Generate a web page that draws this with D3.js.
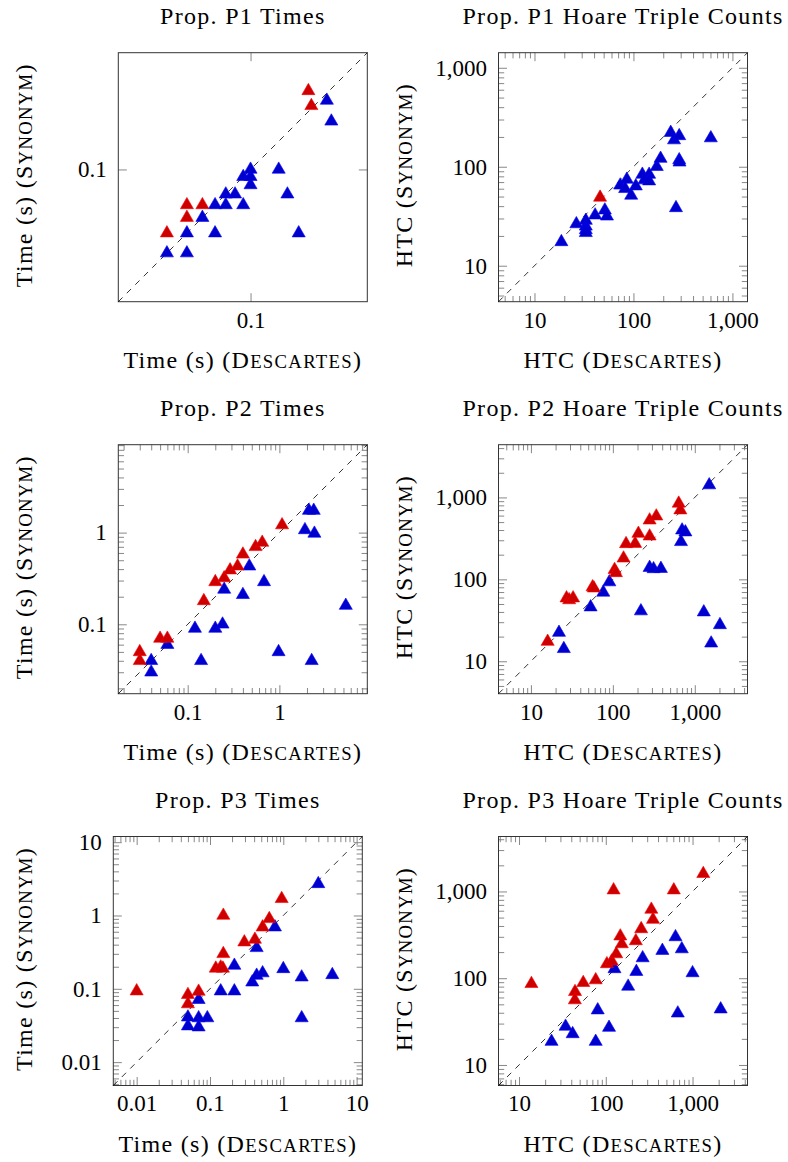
<!DOCTYPE html>
<html>
<head>
<meta charset="utf-8">
<script src="https://cdn.jsdelivr.net/npm/d3@7"></script>
<style>
  body { margin: 0; background: #fff; }
  svg text { font-family: "Liberation Serif", serif; fill: #000; }
  .lbl { font-size: 24px; letter-spacing: 1.3px; }
  .sc { font-size: 18.7px; text-transform: uppercase; }
</style>
</head>
<body>
<div id="container"></div>
<script>
// Titles
const titles = [
  'Prop. P1 Times', 'Prop. P1 Hoare Triple Counts',
  'Prop. P2 Times', 'Prop. P2 Hoare Triple Counts',
  'Prop. P3 Times', 'Prop. P3 Hoare Triple Counts'
];

// Axis ranges (same for x and y, so the diagonal runs corner to corner)
const p1TimeDomain = [0.0149, 0.537];
const p1HtcDomain = [4.33, 1420];
const p2TimeDomain = [0.0175, 9.1];
const p2HtcDomain = [4.02, 4400];
const p3TimeDomain = [0.0048, 11.95];
const p3HtcDomain = [5.8, 4300];

// Labelled ticks
const p1TimeTicks = [0.1];
const p1HtcTicks = [10, 100, 1000];
const p2TimeTicks = [0.1, 1];
const p2HtcTicks = [10, 100, 1000];
const p3TimeTicks = [0.01, 0.1, 1, 10];
const p3HtcTicks = [10, 100, 1000];

// Points: [Descartes, Synonym]
const p1TimeRed = [[0.03, 0.04], [0.04, 0.05], [0.04, 0.06], [0.05, 0.06], [0.23, 0.31], [0.24, 0.25]];
const p1TimeBlue = [[0.03, 0.03], [0.04, 0.03], [0.04, 0.04], [0.06, 0.04], [0.20, 0.04], [0.05, 0.05],
  [0.06, 0.06], [0.07, 0.06], [0.09, 0.06], [0.07, 0.07], [0.08, 0.07], [0.17, 0.07], [0.10, 0.08],
  [0.09, 0.09], [0.10, 0.09], [0.10, 0.10], [0.15, 0.10], [0.30, 0.27], [0.32, 0.20]];

const p1HtcRed = [[46, 49]];
const p1HtcBlue = [[18.7, 17.4], [26.5, 26.4], [33, 28.6], [33, 25], [33, 23], [33, 21.5], [41, 32.4],
  [51.4, 36.4], [54, 31.6], [73.5, 65], [85.7, 74.4], [82.4, 59.9], [94.8, 51.3], [105.6, 63.7],
  [123, 83.5], [144, 83.5], [129, 73.3], [144, 71.6], [172, 100], [188, 121], [238, 221], [257, 186],
  [290, 205], [290, 117], [292, 111], [269, 38.4], [605, 195]];

const p2TimeRed = [[0.03, 0.05], [0.03, 0.04], [0.05, 0.07], [0.06, 0.07], [0.15, 0.18], [0.2, 0.29],
  [0.25, 0.32], [0.29, 0.39], [0.35, 0.43], [0.4, 0.58], [0.55, 0.7], [0.65, 0.78], [1.07, 1.21]];
const p2TimeBlue = [[0.04, 0.04], [0.04, 0.03], [0.06, 0.06], [0.12, 0.09], [0.2, 0.09], [0.24, 0.1],
  [0.14, 0.04], [0.25, 0.24], [0.4, 0.21], [0.47, 0.43], [0.68, 0.29], [0.98, 0.05], [1.9, 1.07],
  [2.1, 1.74], [2.37, 1.74], [2.41, 0.98], [2.25, 0.04], [5.3, 0.16]];

const p2HtcRed = [[16, 17.4], [27.2, 59], [29.3, 56], [32.7, 59], [56.6, 80.5], [58.7, 78], [105, 131],
  [109, 120], [135, 181], [145, 271], [187, 273], [205, 362], [281, 336], [281, 527], [339, 590],
  [637, 845], [667, 700]];
const p2HtcBlue = [[22, 22.4], [25.2, 14.2], [53.5, 45.8], [76.4, 69.3], [90.6, 92.7], [281, 139],
  [314, 134], [386, 135], [220, 41], [700, 398], [768, 377], [679, 287], [1500, 1415], [1288, 39.8],
  [1585, 16.6], [2027, 27.8]];

const p3TimeRed = [[0.01, 0.093], [0.05, 0.083], [0.05, 0.062], [0.07, 0.092], [0.12, 0.19], [0.14, 0.197],
  [0.15, 0.19], [0.152, 0.3], [0.152, 1.0], [0.294, 0.433], [0.41, 0.471], [0.522, 0.693], [0.644, 0.9],
  [0.95, 1.69]];
const p3TimeBlue = [[0.05, 0.041], [0.05, 0.031], [0.07, 0.04], [0.07, 0.03], [0.07, 0.071], [0.092, 0.04],
  [0.14, 0.093], [0.215, 0.093], [0.215, 0.208], [0.377, 0.123], [0.433, 0.152], [0.522, 0.164],
  [0.433, 0.362], [0.769, 0.693], [1.0, 0.187], [1.78, 0.144], [1.78, 0.04], [3.0, 2.7], [4.66, 0.155]];

const p3HtcRed = [[13.9, 86.3], [44.2, 69.8], [44, 56], [55, 88.7], [76.5, 95.3], [103, 146], [117, 157],
  [132, 190], [147, 305], [153, 248], [123, 1036], [222, 269], [256, 370], [335, 620], [350, 474],
  [608, 1036], [1330, 1600]];
const p3HtcBlue = [[23.7, 18.6], [34.4, 27.8], [41.5, 22.8], [76.5, 18.6], [80.7, 42.9], [109, 27],
  [126, 128], [181, 80.4], [225, 119], [266, 171], [449, 208], [636, 299], [676, 39.5], [752, 217],
  [1000, 115], [2109, 44]];

// Layout
const W = 788, H = 1162, S = 249;
const svg = d3.select('#container').append('svg')
  .attr('width', W)
  .attr('height', H);

const timeFmt = d3.format('~g');
const htcFmt = d3.format(',');

const panels = [
  { x0: 118.3, y0: 52.7, domain: p1TimeDomain, ticks: p1TimeTicks, red: p1TimeRed, blue: p1TimeBlue, kind: 'time', minor: false },
  { x0: 498.5, y0: 52.7, domain: p1HtcDomain, ticks: p1HtcTicks, red: p1HtcRed, blue: p1HtcBlue, kind: 'htc', minor: true },
  { x0: 118.3, y0: 444.7, domain: p2TimeDomain, ticks: p2TimeTicks, red: p2TimeRed, blue: p2TimeBlue, kind: 'time', minor: true },
  { x0: 498.5, y0: 444.7, domain: p2HtcDomain, ticks: p2HtcTicks, red: p2HtcRed, blue: p2HtcBlue, kind: 'htc', minor: true },
  { x0: 113.3, y0: 836.5, domain: p3TimeDomain, ticks: p3TimeTicks, red: p3TimeRed, blue: p3TimeBlue, kind: 'time', minor: true },
  { x0: 498.5, y0: 836.5, domain: p3HtcDomain, ticks: p3HtcTicks, red: p3HtcRed, blue: p3HtcBlue, kind: 'htc', minor: true }
];

const triangle = d3.symbol(d3.symbolTriangle, 74);

function minorTicks(domain) {
  const out = [];
  const e0 = Math.floor(Math.log10(domain[0])), e1 = Math.ceil(Math.log10(domain[1]));
  for (let e = e0; e <= e1; e++) {
    for (let k = 2; k <= 9; k++) {
      const v = +(k * Math.pow(10, e)).toPrecision(6);
      if (v >= domain[0] && v <= domain[1]) out.push(v);
    }
  }
  return out;
}

// text with a small-caps word: "Time (s) (" + "Descartes" + ")"
function capsLabel(sel, before, word) {
  sel.append('tspan').text(before + word[0]);
  sel.append('tspan').attr('class', 'sc').text(word.slice(1));
  sel.append('tspan').text(')');
}

function drawPanel(p, i) {
  const g = svg.append('g').attr('transform', `translate(${p.x0},${p.y0})`);
  const x = d3.scaleLog().domain(p.domain).range([0, S]);
  const y = d3.scaleLog().domain(p.domain).range([S, 0]);
  const fmt = p.kind === 'time' ? timeFmt : htcFmt;
  const minor = p.minor ? minorTicks(p.domain) : [];

  // Ticks on all four sides, pointing inward
  const sides = [
    [d3.axisBottom(x), `translate(0,${S})`, true],
    [d3.axisTop(x), 'translate(0,0)', false],
    [d3.axisLeft(y), 'translate(0,0)', true],
    [d3.axisRight(y), `translate(${S},0)`, false]
  ];
  sides.forEach(([axis, tr, labelled], j) => {
    const pad = j === 0 ? 9.6 : 11.5;
    g.append('g').attr('transform', tr)
      .call(axis.tickValues(minor).tickSize(-5.7).tickFormat(''))
      .call(a => a.select('.domain').remove())
      .call(a => a.selectAll('line').attr('stroke', '#7a7a7a').attr('stroke-width', 0.9));
    g.append('g').attr('transform', tr)
      .call(axis.tickValues(p.ticks).tickSize(-8.5).tickPadding(pad).tickFormat(labelled ? fmt : ''))
      .call(a => a.select('.domain').remove())
      .call(a => a.selectAll('line').attr('stroke', '#7a7a7a').attr('stroke-width', 0.9))
      .call(a => a.selectAll('text').attr('font-size', 23).attr('font-family', '"Liberation Serif", serif').attr('fill', '#000'));
  });

  // Frame
  g.append('rect')
    .attr('width', S).attr('height', S)
    .attr('fill', 'none').attr('stroke', '#333').attr('stroke-width', 1);

  // Diagonal y = x
  g.append('line')
    .attr('x1', x(p.domain[0])).attr('y1', y(p.domain[0]))
    .attr('x2', x(p.domain[1])).attr('y2', y(p.domain[1]))
    .attr('stroke', '#000').attr('stroke-width', 0.8)
    .attr('stroke-dasharray', '6 6');

  // Marks
  const series = [[p.blue, '#0000cc', '#0000ff'], [p.red, '#cc0000', '#ff0000']];
  series.forEach(([data, fill, stroke]) => {
    g.append('g').selectAll('path')
      .data(data)
      .enter().append('path')
      .attr('d', triangle)
      .attr('transform', d => `translate(${x(d[0])},${y(d[1])})`)
      .attr('fill', fill)
      .attr('stroke', stroke)
      .attr('stroke-width', 0.6);
  });

  // Title
  g.append('text')
    .attr('class', 'lbl')
    .attr('x', S / 2).attr('y', -29)
    .attr('text-anchor', 'middle')
    .text(titles[i]);

  // Axis labels
  const base = p.kind === 'time' ? 'Time (s) (' : 'HTC (';
  const xl = g.append('text')
    .attr('class', 'lbl')
    .attr('x', S / 2).attr('y', S + 66)
    .attr('text-anchor', 'middle');
  capsLabel(xl, base, 'Descartes');

  const ylx = (i % 2 === 0 ? 31.5 : 412) - p.x0;
  const yl = g.append('text')
    .attr('class', 'lbl')
    .attr('transform', `translate(${ylx},${S / 2 - 2}) rotate(-90)`)
    .attr('text-anchor', 'middle');
  capsLabel(yl, base, 'Synonym');
}

panels.forEach(drawPanel);
</script>
</body>
</html>
